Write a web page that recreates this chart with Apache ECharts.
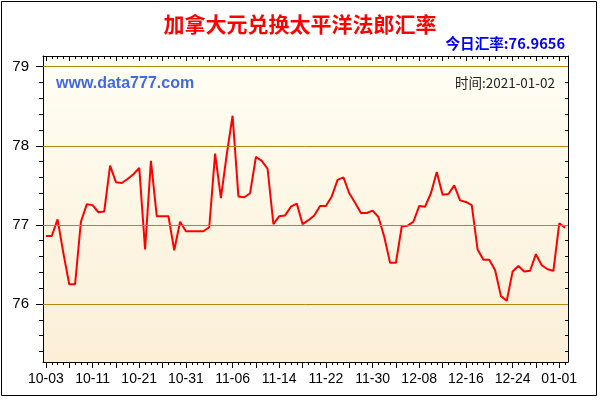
<!DOCTYPE html>
<html><head><meta charset="utf-8">
<script src="https://cdn.jsdelivr.net/npm/echarts@6/dist/echarts.min.js"></script>
<style>html,body{margin:0;padding:0;background:#fff}#c{width:600px;height:400px}</style>
</head><body><div id="c"></div>
<script>
const tickLabels = ['10-03','10-11','10-21','10-31','11-06','11-14','11-22','11-30','12-08','12-16','12-24','01-01'];
const rates = [
  76.86, 76.86, 77.07, 76.64, 76.25, 76.25, 77.04, 77.26, 77.25, 77.16,
  77.17, 77.75, 77.54, 77.53, 77.58, 77.64, 77.72, 76.69, 77.81, 77.11,
  77.11, 77.11, 76.68, 77.04, 76.92, 76.92, 76.92, 76.92, 76.97, 77.90,
  77.34, 77.89, 78.38, 77.36, 77.35, 77.40, 77.86, 77.81, 77.71, 77.01,
  77.11, 77.12, 77.23, 77.27, 77.01, 77.06, 77.12, 77.24, 77.24, 77.36,
  77.57, 77.60, 77.40, 77.28, 77.15, 77.15, 77.18, 77.10, 76.85, 76.52,
  76.52, 76.98, 76.99, 77.04, 77.24, 77.23, 77.40, 77.67, 77.38, 77.39,
  77.50, 77.31, 77.29, 77.25, 76.69, 76.56, 76.56, 76.43, 76.10, 76.04,
  76.41, 76.48, 76.41, 76.42, 76.63, 76.49, 76.44, 76.42, 77.02, 76.9656
];
const yMajorTicks = [76, 77, 78, 79];
const yMinorTicks = [75.4, 75.6, 75.8, 76.0, 76.2, 76.4, 76.6, 76.8, 77.0, 77.2, 77.4, 77.6, 77.8, 78.0, 78.2, 78.4, 78.6, 78.8, 79.0];
const titleText = '加拿大元兑换太平洋法郎汇率';
const todayText = '今日汇率:76.9656';
const siteText = 'www.data777.com';
const timeText = '时间:2021-01-02';

const categories = rates.map((_, i) => (i % 8 === 0 ? tickLabels[i / 8] : String(i)));

const LABEL_FONT = '"Liberation Sans", Arial, sans-serif';
const CJK_FONT = '"Noto Sans CJK SC", "Liberation Sans", sans-serif';
const black = { color: '#000', width: 1 };

const xBase = {
  type: 'category', data: categories, boundaryGap: true,
  axisLine: { show: false }, axisLabel: { show: false }, splitLine: { show: false }
};
const yBase = {
  type: 'value', min: 75.267, max: 79.135, scale: true,
  axisLine: { show: false }, axisLabel: { show: false }, splitLine: { show: false }
};

const chart = echarts.init(document.getElementById('c'), null, { renderer: 'canvas' });
chart.setOption({
  animation: false,
  backgroundColor: '#fff',
  grid: {
    left: 43, right: 32, top: 56, bottom: 38, outerBoundsMode: 'none',
    show: true, borderWidth: 0,
    backgroundColor: { type: 'linear', x: 0, y: 0, x2: 0, y2: 1,
      colorStops: [{ offset: 0, color: '#FFFEF4' }, { offset: 1, color: '#FBEFD6' }] }
  },
  xAxis: [
    Object.assign({}, xBase, { position: 'bottom',
      axisLine: { show: true, lineStyle: black },
      axisTick: { show: true, alignWithLabel: true, interval: 0, length: 3, lineStyle: black } }),
    Object.assign({}, xBase, { position: 'bottom',
      axisTick: { show: true, alignWithLabel: true, interval: 3, length: 6, lineStyle: black },
      axisLabel: { show: true, interval: 7, margin: 10, color: '#000', fontSize: 14, fontFamily: LABEL_FONT,
        formatter: (v, i) => tickLabels[i / 8] } }),
    Object.assign({}, xBase, { position: 'top',
      axisLine: { show: true, lineStyle: black },
      axisTick: { show: true, inside: true, alignWithLabel: true, interval: 0, length: 3, lineStyle: black } }),
    Object.assign({}, xBase, { position: 'top',
      axisTick: { show: true, inside: true, alignWithLabel: true, interval: 3, length: 5, lineStyle: black } })
  ],
  yAxis: [
    Object.assign({}, yBase, { position: 'left',
      axisLine: { show: true, lineStyle: black },
      axisTick: { show: true, customValues: yMinorTicks, length: 4, lineStyle: black },
      axisLabel: { show: true, customValues: yMajorTicks, margin: 14, color: '#000', fontSize: 15, fontFamily: LABEL_FONT } }),
    Object.assign({}, yBase, { position: 'left',
      axisTick: { show: true, customValues: yMajorTicks, length: 7, lineStyle: black } }),
    Object.assign({}, yBase, { position: 'right',
      axisLine: { show: true, lineStyle: black },
      axisTick: { show: true, inside: true, customValues: yMinorTicks, length: 3, lineStyle: black } }),
    Object.assign({}, yBase, { position: 'right',
      axisTick: { show: true, inside: true, customValues: yMajorTicks, length: 5, lineStyle: black } })
  ],
  series: [
    {
      type: 'line', xAxisIndex: 0, yAxisIndex: 0, data: [], z: 1, silent: true,
      markLine: {
        silent: true, symbol: ['none', 'none'], label: { show: false },
        lineStyle: { color: '#B8860B', width: 1, type: 'solid' },
        data: yMajorTicks.map(v => ({ yAxis: v }))
      }
    },
    {
      type: 'line', xAxisIndex: 0, yAxisIndex: 0, data: rates, z: 3, silent: true,
      showSymbol: false, symbol: 'none',
      lineStyle: { color: '#FF0000', width: 2 }, itemStyle: { color: '#FF0000' }
    }
  ],
  graphic: [
    { type: 'rect', silent: true, z: 100,
      shape: { x: 1.5, y: 1.5, width: 595, height: 394 },
      style: { fill: null, stroke: '#000', lineWidth: 1 } },
    { type: 'text', x: 300, y: 24, silent: true, z: 100,
      style: { text: titleText, fill: '#FF0000', font: 'bold 21px ' + CJK_FONT, align: 'center', verticalAlign: 'middle' } },
    { type: 'text', x: 565, y: 43, silent: true, z: 100,
      style: { text: todayText, fill: '#0000FF', font: 'bold 14.6px ' + CJK_FONT, align: 'right', verticalAlign: 'middle' } },
    { type: 'text', x: 56, y: 84, silent: true, z: 100,
      style: { text: siteText, fill: '#4169E1', font: 'bold 16px ' + LABEL_FONT, align: 'left', verticalAlign: 'middle' } },
    { type: 'text', x: 555, y: 82.5, silent: true, z: 100,
      style: { text: timeText, fill: '#222', font: '13.5px ' + CJK_FONT, align: 'right', verticalAlign: 'middle' } }
  ]
});
</script>
</body></html>
